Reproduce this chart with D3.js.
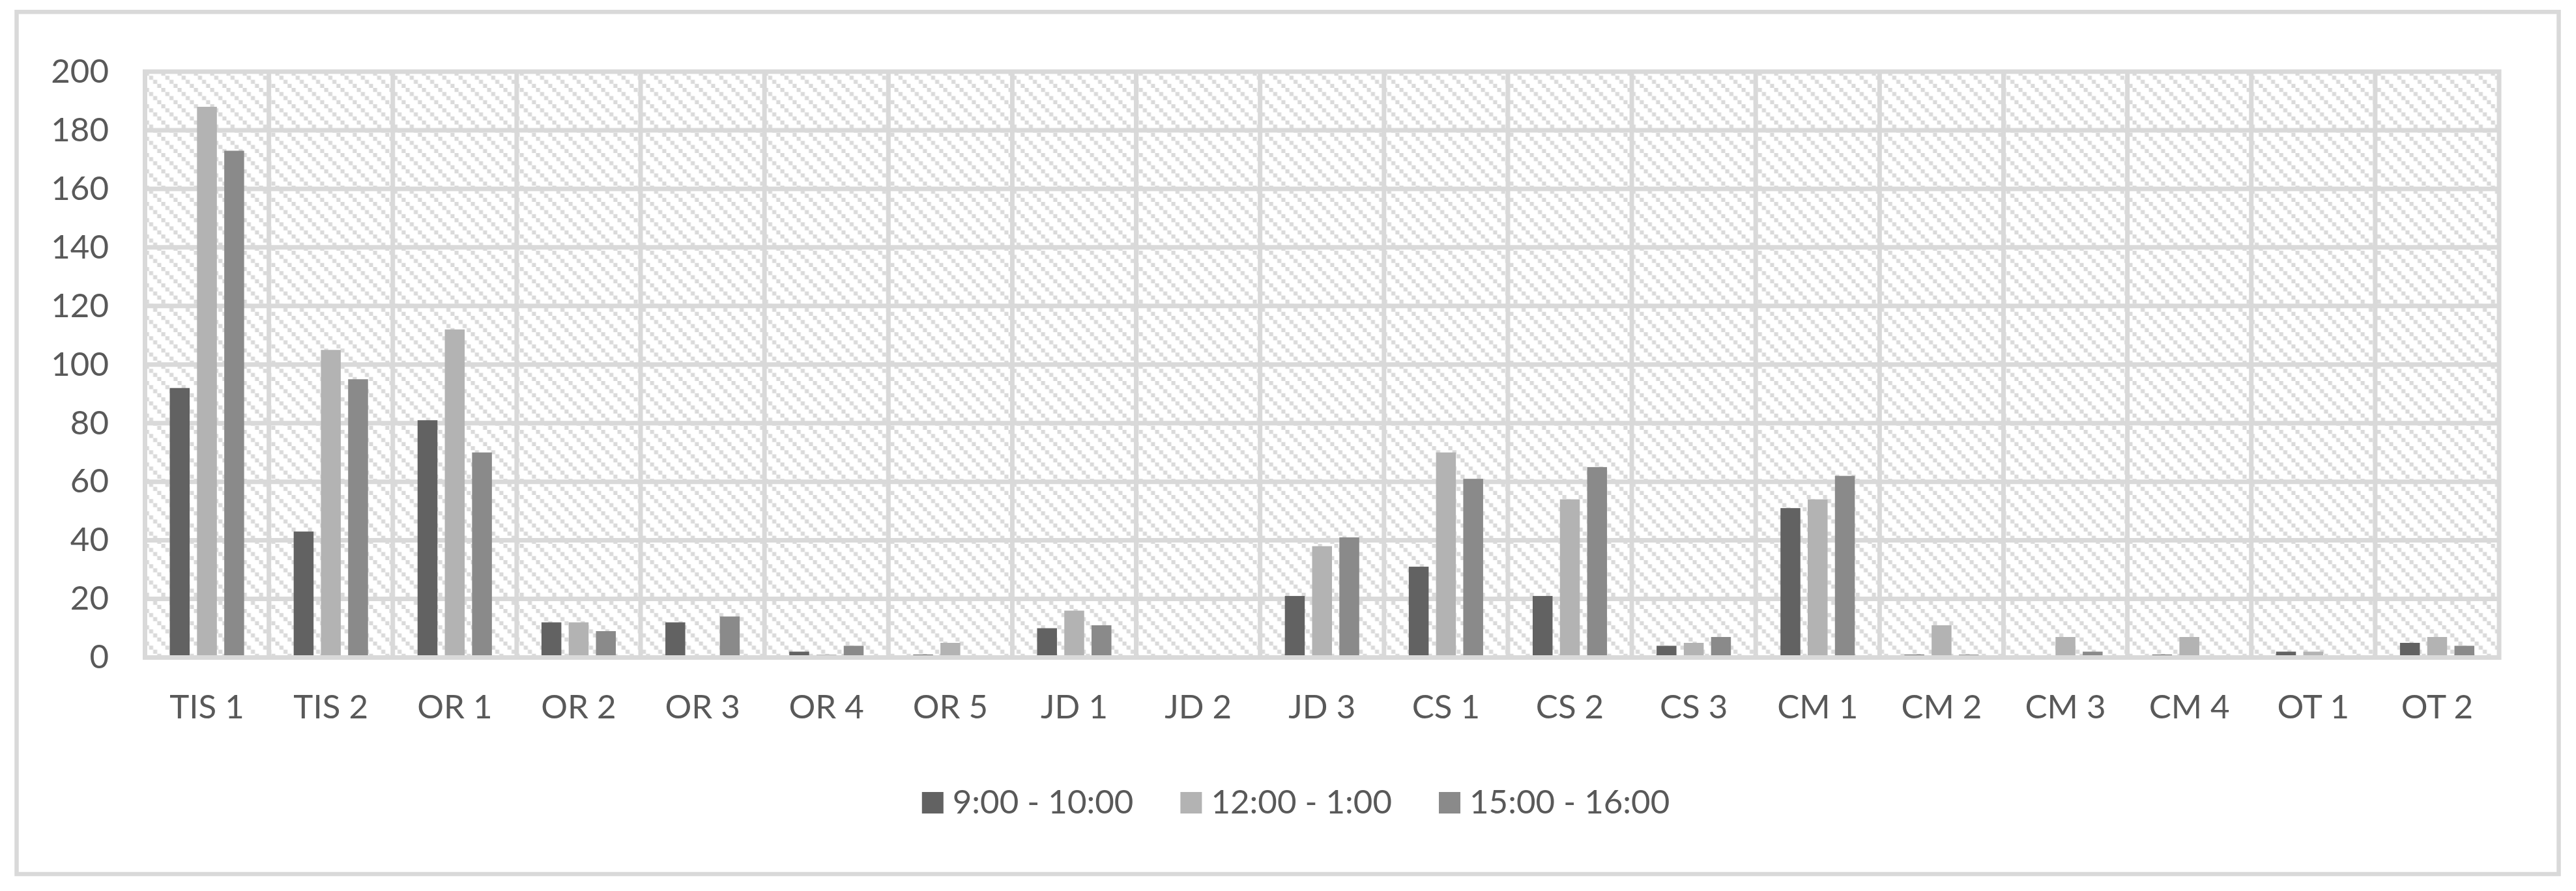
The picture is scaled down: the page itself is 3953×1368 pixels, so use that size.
<!DOCTYPE html>
<html>
<head>
<meta charset="utf-8">
<script src="https://cdn.jsdelivr.net/npm/d3@7"></script>
<style>
  html, body { margin: 0; padding: 0; background: #ffffff; }
  svg { display: block; }
</style>
</head>
<body>
<svg id="chart" width="3953" height="1368"></svg>
<script>
// ---- data ----
const categories = ["TIS 1","TIS 2","OR 1","OR 2","OR 3","OR 4","OR 5","JD 1","JD 2","JD 3",
                    "CS 1","CS 2","CS 3","CM 1","CM 2","CM 3","CM 4","OT 1","OT 2"];
const seriesNames = ["9:00 - 10:00", "12:00 - 1:00", "15:00 - 16:00"];
const morning   = [92, 43, 81, 12, 12, 2, 1, 10, 0, 21, 31, 21, 4, 51, 1, 0, 1, 2, 5];
const midday    = [188, 105, 112, 12, 0, 1, 5, 16, 0, 38, 70, 54, 5, 54, 11, 7, 7, 2, 7];
const afternoon = [173, 95, 70, 9, 14, 4, 0, 11, 0, 41, 61, 65, 7, 62, 1, 2, 0, 0, 4];
const yTicks = [0, 20, 40, 60, 80, 100, 120, 140, 160, 180, 200];
const seriesColors = ["#626262", "#b3b3b3", "#8a8a8a"];

// ---- layout ----
const W = 3953, H = 1368;
const plot = { left: 222.5, top: 110, right: 3835, bottom: 1009.5 };
const gridColor = "#d9d9d9";
const textColor = "#595959";
const fontFamily = "Lato, 'Open Sans', 'Liberation Sans', sans-serif";
const fontSize = 51;

const svg = d3.select("#chart");

// outer frame
svg.append("rect")
  .attr("x", 25.5).attr("y", 18.3)
  .attr("width", 3926.5 - 25.5).attr("height", 1342 - 18.3)
  .attr("fill", "#ffffff").attr("stroke", gridColor).attr("stroke-width", 6.5);

// hatch pattern
const defs = svg.append("defs");
const pat = defs.append("pattern")
  .attr("id", "hatch").attr("patternUnits", "userSpaceOnUse")
  .attr("x", plot.left).attr("y", plot.top)
  .attr("width", 25).attr("height", 25);
pat.append("rect").attr("width", 25).attr("height", 25).attr("fill", "#ffffff");
[0, 1, 2, 3].forEach(i => {
  pat.append("rect")
    .attr("x", i * 6.25).attr("y", i * 6.25)
    .attr("width", 6.25).attr("height", 6.25)
    .attr("fill", "#dadada");
});

// scales
const x0 = d3.scaleBand().domain(categories).range([plot.left, plot.right]).padding(0);
const bw = x0.bandwidth();
const x1 = d3.scaleBand().domain(seriesNames)
  .range([0.2 * bw, 0.8 * bw]).paddingInner(0.27).paddingOuter(0);
const y = d3.scaleLinear().domain([0, 200]).range([plot.bottom, plot.top]);
const color = d3.scaleOrdinal().domain(seriesNames).range(seriesColors);

// plot background
svg.append("rect")
  .attr("x", plot.left).attr("y", plot.top)
  .attr("width", plot.right - plot.left).attr("height", plot.bottom - plot.top)
  .attr("fill", "url(#hatch)");

// horizontal gridlines
svg.append("g").selectAll("line")
  .data(yTicks.filter(t => t > 0 && t < 200))
  .join("line")
  .attr("x1", plot.left).attr("x2", plot.right)
  .attr("y1", d => y(d)).attr("y2", d => y(d))
  .attr("stroke", gridColor).attr("stroke-width", 7);

// vertical gridlines (category boundaries)
svg.append("g").selectAll("line")
  .data(categories.slice(1))
  .join("line")
  .attr("x1", d => x0(d)).attr("x2", d => x0(d))
  .attr("y1", plot.top).attr("y2", plot.bottom)
  .attr("stroke", gridColor).attr("stroke-width", 7);

// bars
const seriesData = [morning, midday, afternoon];
const groups = svg.append("g").selectAll("g")
  .data(categories)
  .join("g")
  .attr("transform", d => `translate(${x0(d)},0)`);
groups.selectAll("rect")
  .data((c, ci) => seriesNames.map((s, si) => ({ s, v: seriesData[si][ci] })))
  .join("rect")
  .attr("x", d => x1(d.s))
  .attr("width", x1.bandwidth())
  .attr("y", d => y(d.v))
  .attr("height", d => y(0) - y(d.v))
  .attr("fill", d => color(d.s));

// plot border (on top of bars)
svg.append("rect")
  .attr("x", plot.left).attr("y", plot.top)
  .attr("width", plot.right - plot.left).attr("height", plot.bottom - plot.top)
  .attr("fill", "none").attr("stroke", gridColor).attr("stroke-width", 7);

// y axis labels
const yAxis = svg.append("g")
  .attr("transform", `translate(${plot.left},0)`)
  .call(d3.axisLeft(y).tickValues(yTicks).tickSize(0).tickPadding(55.5));
yAxis.select(".domain").remove();
yAxis.selectAll("text")
  .attr("fill", textColor).attr("font-family", fontFamily).attr("font-size", fontSize);

// x axis labels
const xAxis = svg.append("g")
  .attr("transform", `translate(0,${plot.bottom})`)
  .call(d3.axisBottom(x0).tickSize(0).tickPadding(57));
xAxis.select(".domain").remove();
xAxis.selectAll("text")
  .attr("fill", textColor).attr("font-family", fontFamily).attr("font-size", fontSize);

// legend
const legend = svg.append("g");
const items = legend.selectAll("g").data(seriesNames).join("g");
items.append("rect")
  .attr("width", 33).attr("height", 33).attr("y", -33)
  .attr("fill", d => color(d));
items.append("text")
  .attr("x", 47).attr("y", 0)
  .attr("fill", textColor).attr("font-family", fontFamily).attr("font-size", fontSize)
  .text(d => d);
let cursor = 0;
const gapItems = 72;
items.each(function() {
  const g = d3.select(this);
  const tw = g.select("text").node().getComputedTextLength();
  g.attr("transform", `translate(${cursor},0)`);
  cursor += 47 + tw + gapItems;
});
const totalW = cursor - gapItems;
legend.attr("transform", `translate(${1988.5 - totalW / 2},1249)`);
</script>
</body>
</html>
